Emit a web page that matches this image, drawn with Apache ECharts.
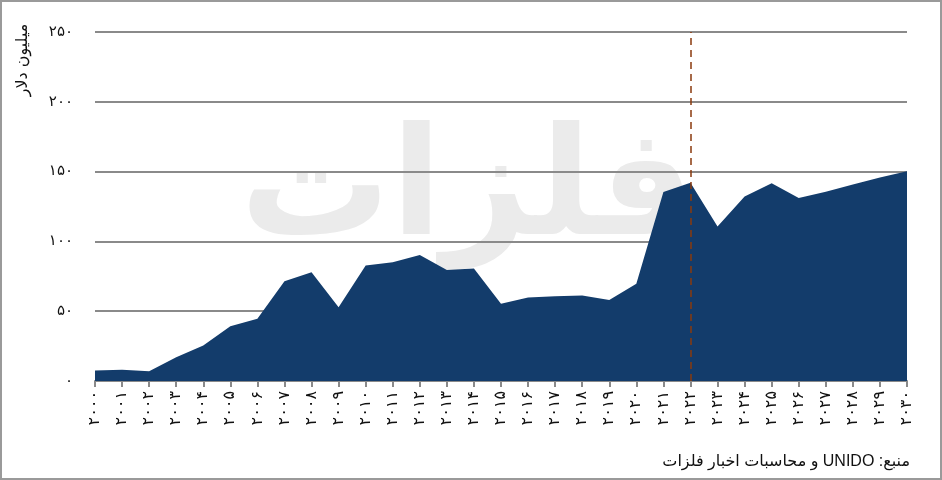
<!DOCTYPE html>
<html>
<head>
<meta charset="utf-8">
<script src="https://cdn.jsdelivr.net/npm/echarts@6/dist/echarts.min.js"></script>
<style>
    html, body { margin: 0; padding: 0; background: #fff; }
    #chart { width: 938px; height: 476px; border: 2px solid #9a9a9a; }
</style>
</head>
<body>
<div id="chart"></div>
<script>
(function () {
    // سال‌ها (برچسب محور افقی)
    var years = ['۲۰۰۰', '۲۰۰۱', '۲۰۰۲', '۲۰۰۳', '۲۰۰۴', '۲۰۰۵', '۲۰۰۶', '۲۰۰۷', '۲۰۰۸', '۲۰۰۹',
        '۲۰۱۰', '۲۰۱۱', '۲۰۱۲', '۲۰۱۳', '۲۰۱۴', '۲۰۱۵', '۲۰۱۶', '۲۰۱۷', '۲۰۱۸', '۲۰۱۹',
        '۲۰۲۰', '۲۰۲۱', '۲۰۲۲', '۲۰۲۳', '۲۰۲۴', '۲۰۲۵', '۲۰۲۶', '۲۰۲۷', '۲۰۲۸', '۲۰۲۹', '۲۰۳۰'];
    // میلیون دلار
    var values = [7.6, 8.1, 6.9, 17, 25.5, 39.3, 44.6, 71.4, 77.9, 52.9,
        82.8, 85, 90.3, 79.6, 80.5, 55.3, 59.8, 60.7, 61.2, 58.1,
        69.6, 135.3, 142.1, 110.7, 132.1, 141.7, 131, 135.5, 140.8, 145.8, 150.2];
    var splitYear = '۲۰۲۲';
    var yTicks = [0, 50, 100, 150, 200, 250];

    var faDigits = '۰۱۲۳۴۵۶۷۸۹';
    function toFa(n) {
        return String(n).replace(/[0-9]/g, function (d) { return faDigits[+d]; });
    }
    // متن راست به چپ روی canvas
    function rtl(s) { return '\u202B' + s + '\u202C'; }

    var myChart = echarts.init(document.getElementById('chart'));
    var option = {
        animation: false,
        grid: { left: 93, right: 33, top: 30, bottom: 97, containLabel: false },
        graphic: [
            {
                type: 'text', z: -10, left: 238, top: 118,
                style: { text: 'فلزات', font: 'bold 150px "DejaVu Sans"', fill: '#ebebeb' }
            },
            {
                type: 'text', x: 21, y: 58, rotation: Math.PI / 2,
                style: { text: rtl('میلیون دلار'), font: '16px "DejaVu Sans"', fill: '#111', align: 'center', verticalAlign: 'middle' }
            },
            {
                type: 'text', right: 30, top: 452,
                style: { text: rtl('منبع: UNIDO و محاسبات اخبار فلزات'), font: '16px "Liberation Sans", "DejaVu Sans"', fill: '#111' }
            }
        ],
        xAxis: {
            type: 'category',
            data: years,
            boundaryGap: false,
            axisLine: { lineStyle: { color: '#8a8a8a', width: 2 } },
            axisTick: { length: 6, lineStyle: { color: '#8a8a8a', width: 2 } },
            axisLabel: {
                rotate: 90, interval: 0, margin: 10,
                color: '#111', fontSize: 16, fontFamily: 'DejaVu Sans'
            }
        },
        yAxis: {
            type: 'value',
            min: 0, max: 250, interval: 50,
            axisLine: { show: false },
            axisTick: { show: false },
            axisLabel: {
                margin: 22, color: '#111', fontSize: 15, fontFamily: 'DejaVu Sans',
                formatter: function (v) { return yTicks.indexOf(v) >= 0 ? toFa(v) : ''; }
            },
            splitLine: { lineStyle: { color: '#8a8a8a', width: 2 } }
        },
        series: [
            {
                name: 'ارزش',
                type: 'line',
                data: values,
                symbol: 'none',
                lineStyle: { width: 0 },
                areaStyle: { color: '#133c6b', opacity: 1 },
                markLine: {
                    silent: true,
                    symbol: 'none',
                    label: { show: false },
                    lineStyle: { color: '#8b3a0e', type: [7, 5], width: 1.5 },
                    data: [{ xAxis: splitYear }]
                }
            }
        ]
    };
    myChart.setOption(option);
})();
</script>
</body>
</html>
